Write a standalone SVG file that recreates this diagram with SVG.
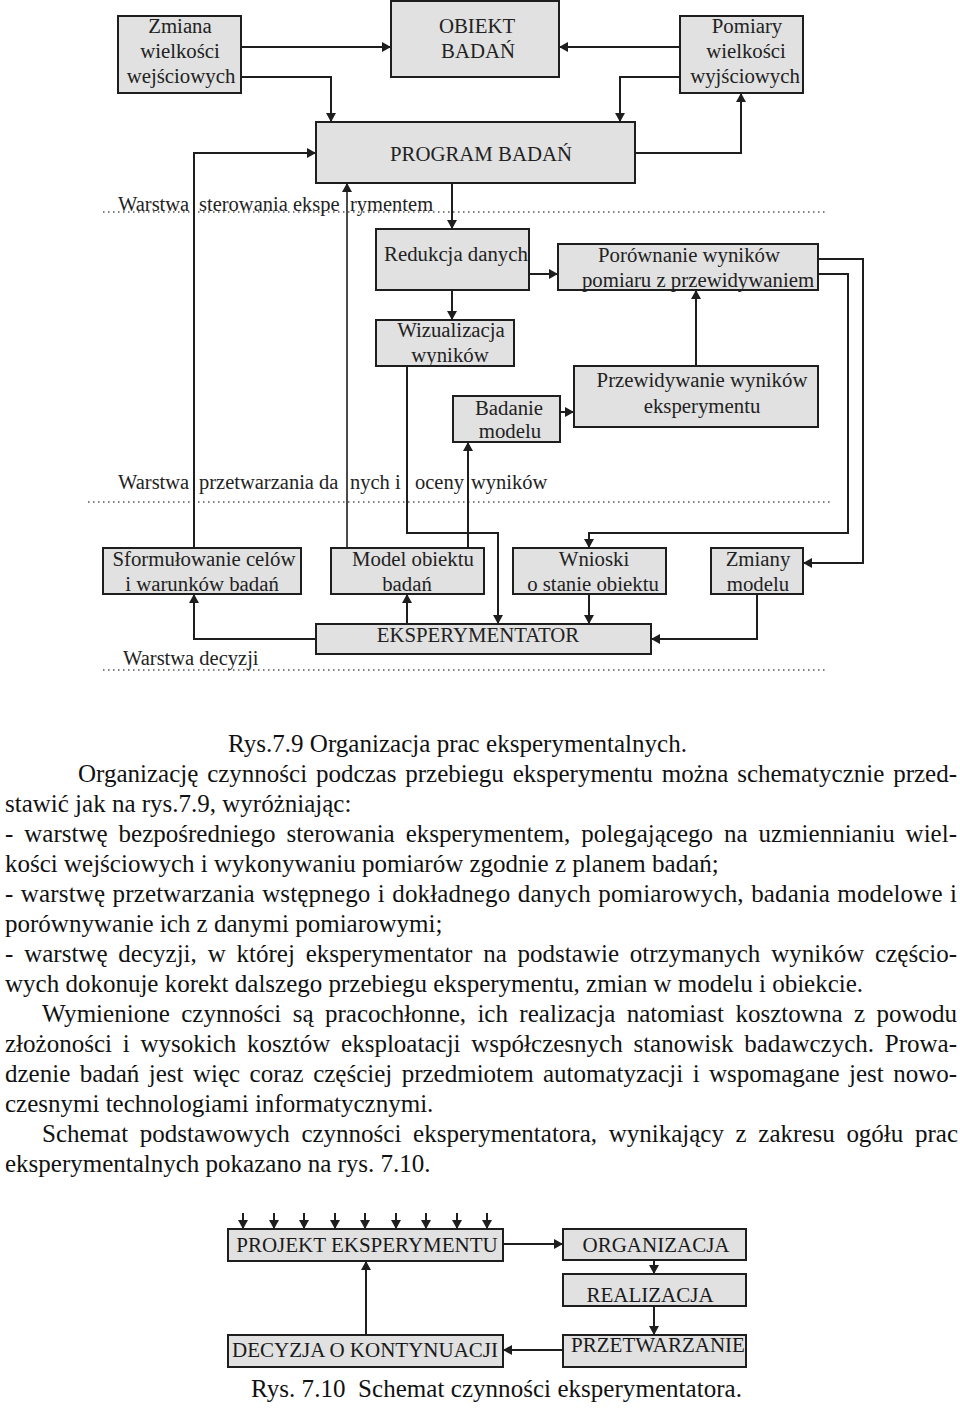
<svg xmlns="http://www.w3.org/2000/svg" width="960" height="1410" viewBox="0 0 960 1410">
<defs>
<style>
.box{fill:#e1e1e1;stroke:#1e1e1e;stroke-width:2}
.t{font-family:"Liberation Serif","Times New Roman",serif;font-size:20.8px;fill:#222;text-anchor:middle}
.tb{font-family:"Liberation Serif","Times New Roman",serif;font-size:21px;fill:#1a1a1a;text-anchor:middle}
.lbl{font-family:"Liberation Serif","Times New Roman",serif;font-size:20.5px;fill:#222}
.body{font-family:"Liberation Serif","Times New Roman",serif;font-size:25px;fill:#111}
.cap{font-family:"Liberation Serif","Times New Roman",serif;font-size:25px;fill:#111}
.dot{stroke:#555;stroke-width:1.3;stroke-dasharray:1.5 3.5;fill:none}
.c{stroke:#1e1e1e;stroke-width:2;fill:none;marker-end:url(#a)}
</style>
<marker id="a" markerUnits="userSpaceOnUse" markerWidth="9" markerHeight="10" viewBox="0 0 9 10" refX="9" refY="5" orient="auto">
<path d="M0,0 L9,5 L0,10 z" fill="#1e1e1e"/>
</marker>
</defs>
<rect width="960" height="1410" fill="#fff"/>

<g id="layers">
<line class="dot" x1="103" y1="212" x2="828" y2="212"/>
<line class="dot" x1="88" y1="502" x2="832" y2="502"/>
<line class="dot" x1="103" y1="670" x2="828" y2="670"/>
<text class="lbl" x="118" y="211">Warstwa <tspan x="199">sterowania ekspe </tspan><tspan x="350">rymentem</tspan></text>
<text class="lbl" x="118" y="489">Warstwa <tspan x="199">przetwarzania da </tspan><tspan x="350">nych i </tspan><tspan x="415">oceny </tspan><tspan x="471">wyników</tspan></text>
<text class="lbl" x="123" y="665">Warstwa decyzji</text>
</g>

<g id="connectors">
<polyline class="c" points="241,47 391,47"/>
<polyline class="c" points="241,77 331,77 331,122"/>
<polyline class="c" points="680,47 559,47"/>
<polyline class="c" points="680,77 620,77 620,122"/>
<polyline class="c" points="635,153 741,153 741,93"/>
<polyline class="c" points="194,548 194,153 316,153"/>
<polyline class="c" style="stroke-width:1.6" points="347,548 347,183"/>
<polyline class="c" points="452,183 452,229"/>
<polyline class="c" points="529,274 558,274"/>
<polyline class="c" points="452,290 452,320"/>
<polyline class="c" points="407,366 407,533 498,533 498,624"/>
<polyline class="c" points="468,548 468,442"/>
<polyline class="c" points="560,412 574,412"/>
<polyline class="c" points="696,366 696,290"/>
<polyline class="c" points="818,259 863,259 863,563 803,563"/>
<polyline class="c" points="818,274 848,274 848,533 589,533 589,548"/>
<polyline class="c" points="316,639 194,639 194,594"/>
<polyline class="c" points="407,624 407,594"/>
<polyline class="c" points="589,594 589,624"/>
<polyline class="c" points="757,594 757,639 651,639"/>
<polyline class="c" points="243,1213 243,1229"/>
<polyline class="c" points="274,1213 274,1229"/>
<polyline class="c" points="304,1213 304,1229"/>
<polyline class="c" points="335,1213 335,1229"/>
<polyline class="c" points="365,1213 365,1229"/>
<polyline class="c" points="396,1213 396,1229"/>
<polyline class="c" points="426,1213 426,1229"/>
<polyline class="c" points="457,1213 457,1229"/>
<polyline class="c" points="487,1213 487,1229"/>
<polyline class="c" points="503,1244 563,1244"/>
<polyline class="c" points="654,1260 654,1274"/>
<polyline class="c" points="654,1306 654,1335"/>
<polyline class="c" points="563,1350 503,1350"/>
<polyline class="c" points="366,1335 366,1261"/>
</g>

<g id="zmiana"><rect class="box" x="118" y="16" width="123" height="77"/>
<text class="t" x="180" y="33">Zmiana</text><text class="t" x="180" y="58">wielkości</text><text class="t" x="181" y="83">wejściowych</text></g>
<g id="obiekt"><rect class="box" x="391" y="1" width="168" height="76"/>
<text class="t" x="477" y="33">OBIEKT</text><text class="t" x="478" y="58">BADAŃ</text></g>
<g id="pomiary"><rect class="box" x="680" y="16" width="123" height="77"/>
<text class="t" x="747" y="33">Pomiary</text><text class="t" x="746" y="58">wielkości</text><text class="t" x="745" y="83">wyjściowych</text></g>
<g id="program"><rect class="box" x="316" y="122" width="319" height="61"/>
<text class="t" x="481" y="161">PROGRAM BADAŃ</text></g>
<g id="redukcja"><rect class="box" x="376" y="229" width="153" height="61"/>
<text class="t" x="456" y="261">Redukcja danych</text></g>
<g id="porownanie"><rect class="box" x="558" y="244" width="260" height="46"/>
<text class="t" x="689" y="262">Porównanie wyników</text><text class="t" x="698" y="287">pomiaru z przewidywaniem</text></g>
<g id="wizualizacja"><rect class="box" x="376" y="320" width="138" height="46"/>
<text class="t" x="451" y="337">Wizualizacja</text><text class="t" x="450" y="362">wyników</text></g>
<g id="badanie"><rect class="box" x="453" y="396" width="107" height="46"/>
<text class="t" x="509" y="415">Badanie</text><text class="t" x="510" y="438">modelu</text></g>
<g id="przewidywanie"><rect class="box" x="574" y="366" width="244" height="61"/>
<text class="t" x="702" y="387">Przewidywanie wyników</text><text class="t" x="702" y="413">eksperymentu</text></g>
<g id="sformulowanie"><rect class="box" x="103" y="548" width="198" height="46"/>
<text class="t" x="204" y="566">Sformułowanie celów</text><text class="t" x="202" y="591">i warunków badań</text></g>
<g id="model"><rect class="box" x="331" y="548" width="153" height="46"/>
<text class="t" x="413" y="566">Model obiektu</text><text class="t" x="407" y="591">badań</text></g>
<g id="wnioski"><rect class="box" x="513" y="548" width="153" height="46"/>
<text class="t" x="594" y="566">Wnioski</text><text class="t" x="593" y="591">o stanie obiektu</text></g>
<g id="zmiany"><rect class="box" x="711" y="548" width="92" height="46"/>
<text class="t" x="758" y="566">Zmiany</text><text class="t" x="758" y="591">modelu</text></g>
<g id="eksperymentator"><rect class="box" x="316" y="624" width="335" height="30"/>
<text class="t" x="478" y="642">EKSPERYMENTATOR</text></g>

<g id="text">
<text class="cap" x="228" y="752" textLength="459" lengthAdjust="spacing">Rys.7.9 Organizacja prac eksperymentalnych.</text>
<text class="body" x="78" y="782" word-spacing="2.6" textLength="879" lengthAdjust="spacing">Organizację czynności podczas przebiegu eksperymentu można schematycznie przed-</text>
<text class="body" x="5" y="812">stawić jak na rys.7.9, wyróżniając:</text>
<text class="body" x="5" y="842" word-spacing="4.7" textLength="952" lengthAdjust="spacing">- warstwę bezpośredniego sterowania eksperymentem, polegającego na uzmiennianiu wiel-</text>
<text class="body" x="5" y="872">kości wejściowych i wykonywaniu pomiarów zgodnie z planem badań;</text>
<text class="body" x="5" y="902" word-spacing="1" textLength="952" lengthAdjust="spacing">- warstwę przetwarzania wstępnego i dokładnego danych pomiarowych, badania modelowe i</text>
<text class="body" x="5" y="932">porównywanie ich z danymi pomiarowymi;</text>
<text class="body" x="5" y="962" word-spacing="4.6" textLength="952" lengthAdjust="spacing">- warstwę decyzji, w której eksperymentator na podstawie otrzymanych wyników częścio-</text>
<text class="body" x="5" y="992">wych dokonuje korekt dalszego przebiegu eksperymentu, zmian w modelu i obiekcie.</text>
<text class="body" x="42" y="1022" word-spacing="5.1" textLength="915" lengthAdjust="spacing">Wymienione czynności są pracochłonne, ich realizacja natomiast kosztowna z powodu</text>
<text class="body" x="5" y="1052" word-spacing="4.5" textLength="952" lengthAdjust="spacing">złożoności i wysokich kosztów eksploatacji współczesnych stanowisk badawczych. Prowa-</text>
<text class="body" x="5" y="1082" word-spacing="3.2" textLength="952" lengthAdjust="spacing">dzenie badań jest więc coraz częściej przedmiotem automatyzacji i wspomagane jest nowo-</text>
<text class="body" x="5" y="1112">czesnymi technologiami informatycznymi.</text>
<text class="body" x="42" y="1142" word-spacing="5.4" textLength="916" lengthAdjust="spacing">Schemat podstawowych czynności eksperymentatora, wynikający z zakresu ogółu prac</text>
<text class="body" x="5" y="1172">eksperymentalnych pokazano na rys. 7.10.</text>
<text class="cap" x="251" y="1397" textLength="491" lengthAdjust="spacing" xml:space="preserve">Rys. 7.10  Schemat czynności eksperymentatora.</text>
</g>

<g id="projekt"><rect class="box" x="228" y="1229" width="275" height="32"/>
<text class="tb" x="367" y="1252">PROJEKT EKSPERYMENTU</text></g>
<g id="organizacja"><rect class="box" x="563" y="1229" width="183" height="31"/>
<text class="tb" x="656" y="1252">ORGANIZACJA</text></g>
<g id="realizacja"><rect class="box" x="563" y="1274" width="183" height="32"/>
<text class="tb" x="650" y="1302">REALIZACJA</text></g>
<g id="przetwarzanie"><rect class="box" x="563" y="1335" width="183" height="32"/>
<text class="tb" x="658" y="1352">PRZETWARZANIE</text></g>
<g id="decyzja"><rect class="box" x="228" y="1335" width="275" height="32"/>
<text class="tb" x="365" y="1357">DECYZJA O KONTYNUACJI</text></g>
</svg>
